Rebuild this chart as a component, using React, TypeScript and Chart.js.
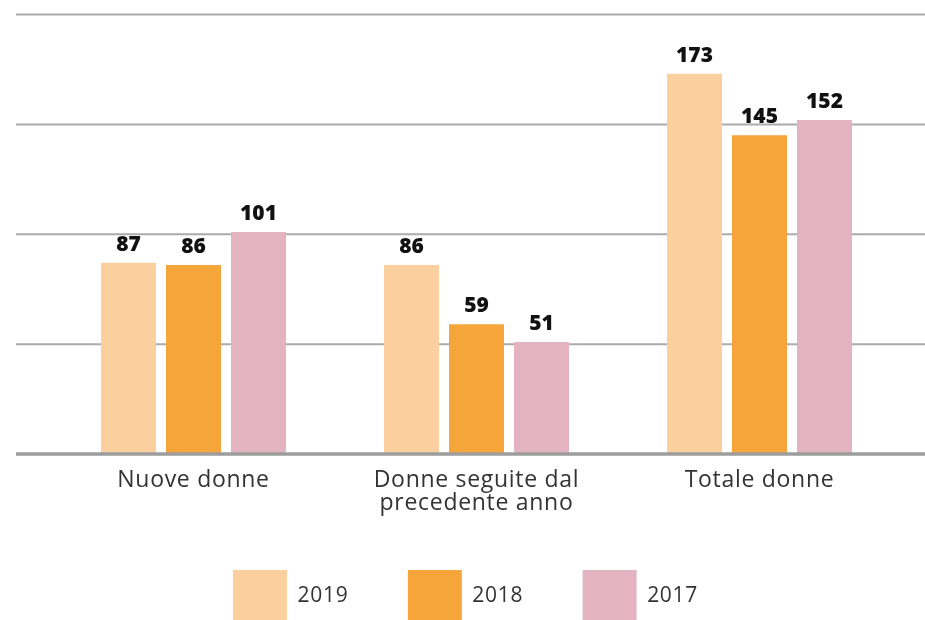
import { useEffect, useRef } from "react";
import { Chart, registerables } from "chart.js";

Chart.register(...registerables);

const categories: string[][] = [["Nuove donne"], ["Donne seguite dal", "precedente anno"], ["Totale donne"]];
const seriesLabels = ["2019", "2018", "2017"];
const values2019 = [87, 86, 173];
const values2018 = [86, 59, 145];
const values2017 = [101, 51, 152];
const yTicks = [0, 50, 100, 150, 200];
const colors = ["#FCD09E", "#F6A53B", "#E3B3C2"];

const FONT = "'Open Sans', sans-serif";
const SPACING = "0.7px";

const decorPlugin = {
  id: "decor",
  beforeLayout(chart: any) {
    chart.ctx.letterSpacing = SPACING;
  },
  afterLayout(chart: any) {
    // let the two-line category labels show fully below the axis box
    const x = chart.scales.x;
    x.bottom += 12;
    x.height += 12;
    // nudge the legend row to the left
    chart.legend.left -= 11;
    chart.legend.right -= 11;
  },
  beforeDraw(chart: any) {
    chart.ctx.letterSpacing = SPACING;
  },
  beforeDatasetsDraw(chart: any) {
    const y = chart.scales.y;
    const ctx = chart.ctx;
    ctx.save();
    yTicks.forEach((v) => {
      if (v === yTicks[0]) return;
      const py = y.getPixelForValue(v);
      ctx.strokeStyle = "#ababab";
      ctx.lineWidth = 2;
      ctx.beginPath();
      ctx.moveTo(16, py);
      ctx.lineTo(chart.width, py);
      ctx.stroke();
    });
    ctx.restore();
  },
  afterDatasetsDraw(chart: any) {
    const y = chart.scales.y;
    const ctx = chart.ctx;
    ctx.save();
    const py = y.getPixelForValue(yTicks[0]);
    ctx.strokeStyle = "#9d9d9d";
    ctx.lineWidth = 3.5;
    ctx.beginPath();
    ctx.moveTo(16, py);
    ctx.lineTo(chart.width, py);
    ctx.stroke();
    ctx.letterSpacing = "0px";
    ctx.fillStyle = "#111";
    ctx.font = `800 21px ${FONT}`;
    ctx.textAlign = "center";
    ctx.textBaseline = "alphabetic";
    chart.data.datasets.forEach((ds: any, i: number) => {
      const meta = chart.getDatasetMeta(i);
      meta.data.forEach((bar: any, j: number) => {
        ctx.fillText(String(ds.data[j]), bar.x, bar.y - 12);
      });
    });
    ctx.restore();
  },
};

export default function App() {
  const ref = useRef<HTMLCanvasElement | null>(null);
  useEffect(() => {
    if (!ref.current) return;
    const chart = new Chart(ref.current, {
      type: "bar",
      data: {
        labels: categories,
        datasets: [
          { label: seriesLabels[0], data: values2019, backgroundColor: colors[0] },
          { label: seriesLabels[1], data: values2018, backgroundColor: colors[1] },
          { label: seriesLabels[2], data: values2017, backgroundColor: colors[2] },
        ],
      },
      options: {
        animation: false,
        responsive: true,
        maintainAspectRatio: false,
        layout: { padding: { left: 52, right: 24, top: 14.5, bottom: 0 } },
        datasets: { bar: { categoryPercentage: 0.689, barPercentage: 0.846 } },
        scales: {
          x: {
            grid: { display: false, drawTicks: false },
            border: { display: false },
            ticks: {
              color: "#333",
              padding: 14.5,
              font: { family: FONT, size: 23, lineHeight: 1.0 },
            },
            afterFit: (axis: any) => {
              axis.height = 56.5;
            },
          },
          y: {
            display: false,
            min: 0,
            max: 200,
            ticks: { stepSize: 50 },
          },
        },
        plugins: {
          legend: {
            position: "bottom",
            labels: {
              boxWidth: 54,
              boxHeight: 52,
              padding: 59.5,
              color: "#333",
              font: { family: FONT, size: 21 },
            },
          },
          tooltip: { enabled: false },
        },
      },
      plugins: [decorPlugin],
    } as any);
    return () => chart.destroy();
  }, []);
  return (
    <div style={{ position: "fixed", left: 0, top: 0, width: 925, height: 632, background: "#fff" }}>
      <canvas ref={ref} />
    </div>
  );
}
